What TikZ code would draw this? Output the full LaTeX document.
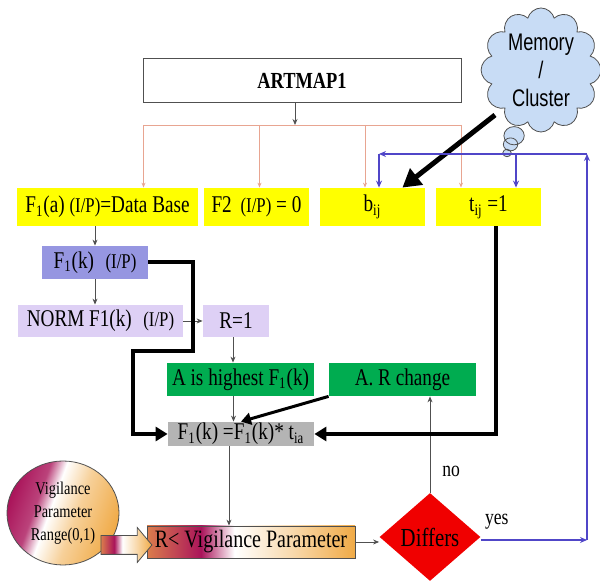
\documentclass[tikz,border=0pt]{standalone}
\usepackage{xcolor}
\usepackage{fontspec}
\setmainfont{Liberation Serif}[FakeStretch=0.8]
\newfontfamily\cloudfont{Liberation Sans}[FakeStretch=0.76]
\usetikzlibrary{arrows.meta, shapes.geometric, shapes.callouts, shapes.arrows}

\definecolor{boxyellow}{RGB}{255,255,0}
\definecolor{fkblue}{RGB}{150,150,225}
\definecolor{lavender}{RGB}{222,208,245}
\definecolor{boxgreen}{RGB}{0,172,80}
\definecolor{boxgray}{RGB}{180,180,180}
\definecolor{diffred}{RGB}{240,0,0}
\definecolor{fbblue}{RGB}{80,70,200}
\definecolor{pinkline}{RGB}{232,165,145}
\definecolor{linegray}{RGB}{80,80,80}
\definecolor{cloudblue}{RGB}{200,220,245}
\definecolor{vorange}{RGB}{240,170,70}
\definecolor{vmag}{RGB}{170,20,90}

\pgfdeclarehorizontalshading{vigbar}{100bp}{color(0bp)=(vorange!70!vmag); color(25bp)=(vorange!70!vmag); color(38bp)=(vmag); color(46bp)=(white); color(60bp)=(vorange!45); color(75bp)=(vorange); color(100bp)=(vorange)}
\pgfdeclarehorizontalshading{vigoval}{100bp}{color(0bp)=(vmag); color(25bp)=(vmag); color(37bp)=(vmag!80); color(44bp)=(white); color(56bp)=(vorange!55); color(75bp)=(vorange); color(100bp)=(vorange)}

\newcommand{\ip}{{\fontsize{10.5}{12}\selectfont(I/P)}}

\tikzset{
    base/.style={font=\fontsize{12}{14}\selectfont, inner sep=0pt},
    ybox/.style={base, fill=boxyellow, minimum width=52.5pt, minimum height=19pt},
    lbox/.style={base, fill=lavender, minimum height=16pt},
    gbox/.style={base, fill=boxgreen, minimum width=73.5pt, minimum height=16.5pt},
    thin arrow/.style={draw=linegray, line width=0.4pt, -{Stealth[length=3pt,width=2.5pt]}},
    pink arrow/.style={draw=pinkline, line width=0.4pt, -{Stealth[length=2.5pt,width=2pt]}},
    blue arrow/.style={draw=fbblue, line width=0.6pt, -{Stealth[length=3.5pt,width=3pt]}},
    heavy arrow/.style={line width=2pt, -{Triangle[length=6pt,width=7pt]}},
}

\begin{document}
\begin{tikzpicture}[x=0.5pt, y=-0.5pt]
    \useasboundingbox (0, 0) rectangle (600, 581);

    \node[base, draw=linegray, line width=0.5pt, minimum width=159pt, minimum height=22pt, font=\fontsize{11.5}{13}\selectfont\bfseries] at (302, 81) (artmap) {ARTMAP1};

    \node[cloud callout, draw=linegray, fill=cloudblue, cloud puffs=12, aspect=1, minimum width=59pt, minimum height=62pt, inner sep=0pt, align=center, font=\cloudfont\fontsize{12}{14}\selectfont, callout pointer start size=.22 of callout, callout pointer end size=.07 of callout, callout pointer segments=3, callout absolute pointer={(507, 153)}] at (541, 70) (memory) {Memory\\/\\Cluster};

    \node[ybox, minimum width=90.5pt] at (107.5, 207) (fa) {F\textsubscript{1}(a) \ip=Data Base};
    \node[ybox] at (256.5, 207) (ftwo) {F2 \,\ip\ = 0};
    \node[ybox] at (372.5, 207) (bij) {b\textsubscript{ij}};
    \node[ybox] at (488.5, 207) (tij) {t\textsubscript{ij} =1};

    \node[base, fill=fkblue, minimum width=53pt, minimum height=16.5pt] at (95, 262.5) (fk) {F\textsubscript{1}(k) \;\ip};
    \node[lbox, minimum width=82.5pt] at (100.5, 321) (norm) {NORM F1(k) \;\ip};
    \node[lbox, minimum width=33pt] at (236, 321) (rone) {R=1};

    \node[gbox] at (240.5, 379.5) (high) {A is highest F\textsubscript{1}(k)};
    \node[gbox] at (402.5, 379.5) (rchg) {A. R change};
    \node[base, fill=boxgray, minimum width=73pt, minimum height=12pt] at (241, 434) (upd) {F\textsubscript{1}(k) =F\textsubscript{1}(k)* t\textsubscript{ia}};

    \node[base, shade, shading=vigbar, draw=linegray, line width=0.4pt, minimum width=104pt, minimum height=16pt, font=\fontsize{12.5}{14}\selectfont] at (251, 542) (vig) {R< Vigilance Parameter};
    \node[diamond, fill=diffred, inner sep=0pt, minimum width=50.5pt, minimum height=44pt, font=\fontsize{13}{14}\selectfont] at (430, 537) (diff) {Differs};

    \node[ellipse, shade, shading=vigoval, shading angle=-20, draw=linegray, line width=0.4pt, minimum width=56pt, minimum height=52pt, inner sep=0pt, align=center, font=\fontsize{9}{11.5}\selectfont] at (63, 513) (range) {Vigilance\\Parameter\\Range(0,1)};
    \node[single arrow, shade, shading=vigbar, draw=linegray, line width=0.4pt, minimum height=25.5pt, minimum width=17pt, single arrow head extend=4pt, single arrow tip angle=100, inner xsep=0pt, inner ysep=4.5pt] at (122.5, 545) (feed) {};

    \coordinate (split) at (295, 125);
    \coordinate (p1) at (143.5, 125);
    \coordinate (p2) at (259.5, 125);
    \coordinate (p3) at (365, 125);
    \coordinate (p4) at (461, 125);
    \draw[thin arrow] (artmap.south -| split) -- (split);
    \draw[pinkline, line width=0.4pt] (p1) -- (p4);
    \draw[pink arrow] (p1) -- (p1 |- fa.north);
    \draw[pink arrow] (p2) -- (p2 |- ftwo.north);
    \draw[pink arrow] (p3) -- (p3 |- bij.north);
    \draw[pink arrow] (p4) -- (p4 |- tij.north);

    \coordinate (cl) at (495, 115);
    \draw[line width=2.5pt, -{Triangle[length=9pt,width=10pt]}] (cl) -- ([xshift=-11.5pt]bij.north east);

    \coordinate (yesend) at (587, 540);
    \coordinate (fbtop) at (587, 154);
    \coordinate (fbleft) at (379, 154);
    \coordinate (fbmid) at (516, 154);
    \draw[blue arrow] (diff.east |- yesend) -- node[pos=0.15, above=5pt, base, font=\fontsize{11}{12}\selectfont] {yes} (yesend);
    \draw[blue arrow] (yesend) -- (fbtop);
    \draw[blue arrow] (fbtop) -- (fbleft);
    \draw[blue arrow] (fbleft) -- (fbleft |- bij.north);
    \draw[blue arrow] (fbmid) -- (fbmid |- tij.north);

    \draw[thin arrow] (fa.south -| fk.north) -- (fk.north);
    \draw[thin arrow] (fk.south) -- (fk.south |- norm.north);
    \draw[thin arrow] (norm.east) -- (rone.west);
    \draw[thin arrow] ([xshift=-1.5pt]rone.south) -- ([xshift=-1.5pt]rone.south |- high.north);
    \draw[thin arrow] ([xshift=-3.5pt]high.south) -- ([xshift=-3.5pt]high.south |- upd.north);
    \draw[thin arrow] ([xshift=-6pt]upd.south) -- ([xshift=-6pt]upd.south |- vig.north);
    \draw[thin arrow] (vig.east) -- (vig.east -| diff.west);
    \draw[thin arrow] (diff.north) -- node[pos=0.22, right=6pt, base, font=\fontsize{11}{12}\selectfont] {no} (diff.north |- rchg.south);

    \coordinate (k1) at (193, 351);
    \coordinate (k2) at (133, 351);
    \draw[heavy arrow] (fk.east) -| (k1) -- (k2) |- (upd.west);
    \draw[heavy arrow] ([xshift=3.75pt]tij.south) |- (upd.east);
    \draw[line width=1.5pt, -{Triangle[length=5pt,width=6pt]}] (rchg.south west) -- (upd.north);
\end{tikzpicture}
\end{document}
